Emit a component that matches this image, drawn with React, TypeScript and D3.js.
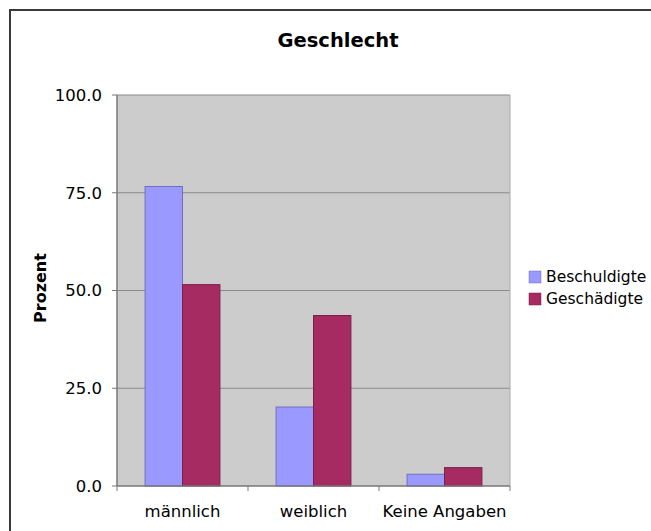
import React from "react";
import * as d3 from "d3";

const categories = ["männlich", "weiblich", "Keine Angaben"];
const seriesNames = ["Beschuldigte", "Geschädigte"];
const beschuldigte = [76.6, 20.2, 3.0];
const geschaedigte = [51.5, 43.6, 4.7];
const yTicks = [0, 25, 50, 75, 100];
const colors = ["#9999ff", "#a62b62"];
const strokes = ["#6f6fc0", "#7a1f48"];

export default function App() {
  const W = 651, H = 531;
  const left = 117, right = 510, top = 95, bottom = 486;
  const x = d3.scaleBand().domain(categories).range([left, right]).paddingInner(0).paddingOuter(0);
  const y = d3.scaleLinear().domain([0, 100]).range([bottom, top]);
  const sub = d3.scaleBand().domain(seriesNames).range([0, x.bandwidth()]).paddingInner(0).paddingOuter(0.75);
  const series = [beschuldigte, geschaedigte];
  const font = "Verdana, 'DejaVu Sans', sans-serif";
  return (
    <svg width={W} height={H} style={{ position: "absolute", left: 0, top: 0 }} fontFamily={font}>
      <rect x={0} y={0} width={W} height={H} fill="#fff" />
      <rect x={10} y={10} width={W + 20} height={H + 20} fill="none" stroke="#3a3a3a" strokeWidth={2} />
      <text x={338} y={47} textAnchor="middle" fontWeight="bold" fontSize={19.5} fill="#000">Geschlecht</text>
      <rect x={left} y={top} width={right - left} height={bottom - top} fill="#cccccc" />
      {yTicks.slice(1).map((t) => (
        <line key={t} x1={left} x2={right} y1={y(t)} y2={y(t)} stroke="#8a8a8a" strokeWidth={1} />
      ))}
      <line x1={right} x2={right} y1={top} y2={bottom} stroke="#aaaaaa" strokeWidth={1} />
      {categories.map((c, i) =>
        series.map((s, j) => (
          <rect key={c + j} x={x(c)! + sub(seriesNames[j])!} y={y(s[i])} width={sub.bandwidth()} height={bottom - y(s[i])}
            fill={colors[j]} stroke={strokes[j]} strokeWidth={1} />
        ))
      )}
      <line x1={left} x2={left} y1={top} y2={bottom} stroke="#777" strokeWidth={1.5} />
      <line x1={left} x2={right} y1={bottom} y2={bottom} stroke="#777" strokeWidth={1.5} />
      {yTicks.map((t) => (
        <g key={t}>
          <line x1={left - 5} x2={left} y1={y(t)} y2={y(t)} stroke="#777" />
          <text x={102} y={y(t)} dy="0.35em" textAnchor="end" fontSize={16.5} fill="#000">{t.toFixed(1)}</text>
        </g>
      ))}
      {[...categories.map((c) => x(c)!), right].map((v, i) => (
        <line key={i} x1={v} x2={v} y1={bottom} y2={bottom + 5} stroke="#777" />
      ))}
      {categories.map((c) => (
        <text key={c} x={x(c)! + x.bandwidth() / 2} y={517} textAnchor="middle" fontSize={16.5} fill="#000">{c}</text>
      ))}
      <text transform={`translate(46,288) rotate(-90)`} textAnchor="middle" fontWeight="bold" fontSize={16} fill="#000">Prozent</text>
      {seriesNames.map((n, j) => (
        <g key={n}>
          <rect x={529} y={271 + j * 22} width={12} height={12} fill={colors[j]} stroke={strokes[j]} strokeWidth={0.5} />
          <text x={546} y={277 + j * 22} dy="0.35em" fontSize={15.5} fill="#000">{n}</text>
        </g>
      ))}
    </svg>
  );
}
